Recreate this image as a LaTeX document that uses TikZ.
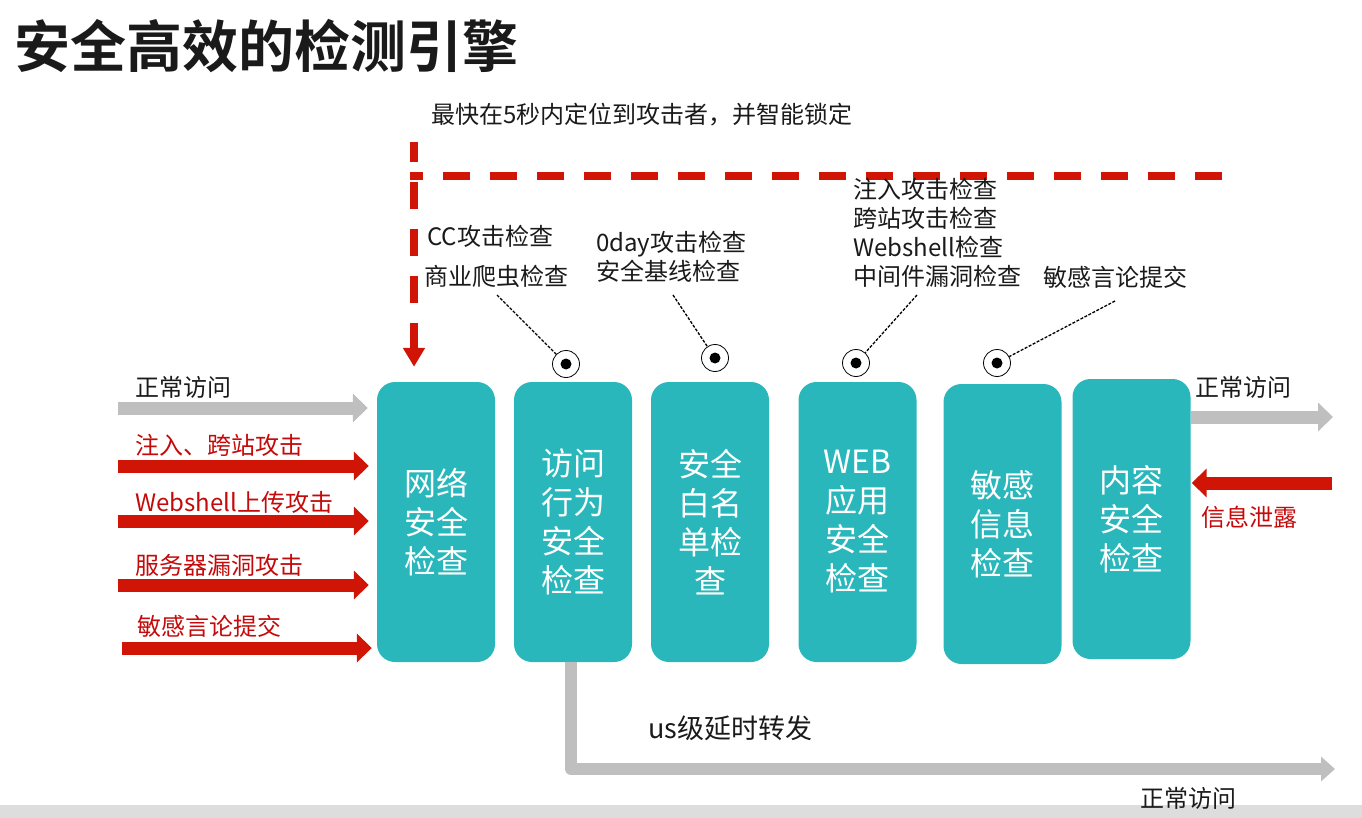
\documentclass[tikz,border=0pt]{standalone}
\usepackage{fontspec}
\setmainfont{Noto Sans CJK SC}[BoldFont={Noto Sans CJK SC Bold}]
\usetikzlibrary{arrows.meta}
\definecolor{boxteal}{RGB}{42,183,187}
\definecolor{hitred}{RGB}{208,20,6}
\definecolor{textred}{RGB}{196,10,10}
\definecolor{flowgray}{RGB}{191,191,191}
\definecolor{bandgray}{RGB}{221,221,221}
\definecolor{ink}{RGB}{26,26,26}
\begin{document}
\begin{tikzpicture}[x=1pt,y=-1pt,line join=round,
    stage/.style={fill=boxteal,rounded corners=18pt,minimum width=118pt,minimum height=280pt,
      inner sep=0pt,text=white,align=center,font=\fontsize{32}{39}\selectfont},
    lbl/.style={anchor=west,inner sep=0pt,text=ink,align=left,font=\fontsize{24}{29}\selectfont},
    redlbl/.style={lbl,text=textred},
    normal/.style={draw=flowgray,line width=13pt,-{Triangle[length=15pt,width=28pt]}},
    attack/.style={draw=hitred,line width=13pt,-{Triangle[length=15pt,width=28pt]}},
    lockline/.style={draw=hitred,line width=8pt,dash pattern=on 27pt off 20pt},
    pointer/.style={draw=black,line width=1.3pt,dash pattern=on 3pt off 1.5pt},
    marker/.style={circle,draw=black,fill=white,line width=0.8pt,minimum size=27pt,inner sep=0pt}]
    \useasboundingbox (0,0) rectangle (1362,818);
    \fill[bandgray] (0,805) rectangle (1362,818);
    \node[lbl,font=\fontsize{56}{60}\selectfont\bfseries] (title) at (14,46) {安全高效的检测引擎};
    \node[lbl] (lock) at (431,115) {最快在5秒内定位到攻击者，并智能锁定};
    % engine stages
    \node[stage] (net) at (436,522) {网络\\安全\\检查};
    \node[stage] (visit) at (573,522) {访问\\行为\\安全\\检查};
    \node[stage] (white) at (710,522) {安全\\白名\\单检\\查};
    \node[stage] (web) at (857.5,522) {WEB\\应用\\安全\\检查};
    \node[stage] (sens) at (1002.5,524) {敏感\\信息\\检查};
    \node[stage] (content) at (1131.5,519) {内容\\安全\\检查};
    % incoming traffic
    \coordinate (in1) at (118,408);
    \coordinate (in2) at (118,466);
    \coordinate (in3) at (118,521);
    \coordinate (in4) at (118,585);
    \coordinate (in5) at (122,648);
    \coordinate (out1) at (1333,417);
    \coordinate (leak) at (1332,483);
    \coordinate (out2) at (1335,769);
    \draw[normal,shorten >=9pt] (in1) -- (in1 -| net.west);
    \draw[attack,shorten >=8pt] (in2) -- (in2 -| net.west);
    \draw[attack,shorten >=8pt] (in3) -- (in3 -| net.west);
    \draw[attack,shorten >=8pt] (in4) -- (in4 -| net.west);
    \draw[attack,shorten >=5pt] (in5) -- (in5 -| net.west);
    \node[lbl] (in1t) at (135,387) {正常访问};
    \node[redlbl] (in2t) at (135,445) {注入、跨站攻击};
    \node[redlbl] (in3t) at (135,502) {Webshell上传攻击};
    \node[redlbl] (in4t) at (135,565) {服务器漏洞攻击};
    \node[redlbl] (in5t) at (137,626) {敏感言论提交};
    % forwarding path
    \draw[normal,line width=12pt,-{Triangle[length=14pt,width=24pt]}] ([xshift=-2pt]visit.south) |- (out2);
    \node[lbl,font=\fontsize{27}{30}\selectfont] (fastt) at (648,728) {us级延时转发};
    \node[lbl] (out2t) at (1140,798) {正常访问};
    \draw[normal] (content.east |- out1) -- (out1);
    \draw[attack,shorten >=1pt] (leak) -- (leak -| content.east);
    \node[lbl] (out1t) at (1195,387) {正常访问};
    \node[redlbl] (leakt) at (1201,517) {信息泄露};
    % locking loop
    \coordinate (lockA) at (414,142);
    \coordinate (lockB) at (410,176);
    \coordinate (lockC) at (1222,176);
    \draw[lockline,dash phase=14pt] (lockB) -- (lockC);
    \draw[lockline,dash phase=7pt,shorten >=15pt,-{Triangle[length=19pt,width=21pt]}] (lockA) -- (lockA |- net.north);
    % check points
    \node[lbl] (cc) at (427,236) {CC攻击检查};
    \node[lbl] (bot) at (424,276) {商业爬虫检查};
    \node[lbl] (zero) at (596,257) {0day攻击检查\\安全基线检查};
    \node[lbl] (webchk) at (853,233) {注入攻击检查\\跨站攻击检查\\Webshell检查\\中间件漏洞检查};
    \node[lbl] (speech) at (1043,277) {敏感言论提交};
    \node[marker] (m1) at (566,364) {};
    \node[marker] (m2) at (715,358) {};
    \node[marker] (m3) at (856,363) {};
    \node[marker] (m4) at (997,363) {};
    \foreach \m in {m1,m2,m3,m4}
        \fill (\m) circle (5.5pt);
    \coordinate (p1) at (497,295);
    \coordinate (p2) at (673,295);
    \coordinate (p3) at (917,295);
    \coordinate (p4) at (1115,301);
    \draw[pointer] (p1) -- (m1);
    \draw[pointer] (p2) -- (m2);
    \draw[pointer] (p3) -- (m3);
    \draw[pointer] (p4) -- (m4);
\end{tikzpicture}
\end{document}
